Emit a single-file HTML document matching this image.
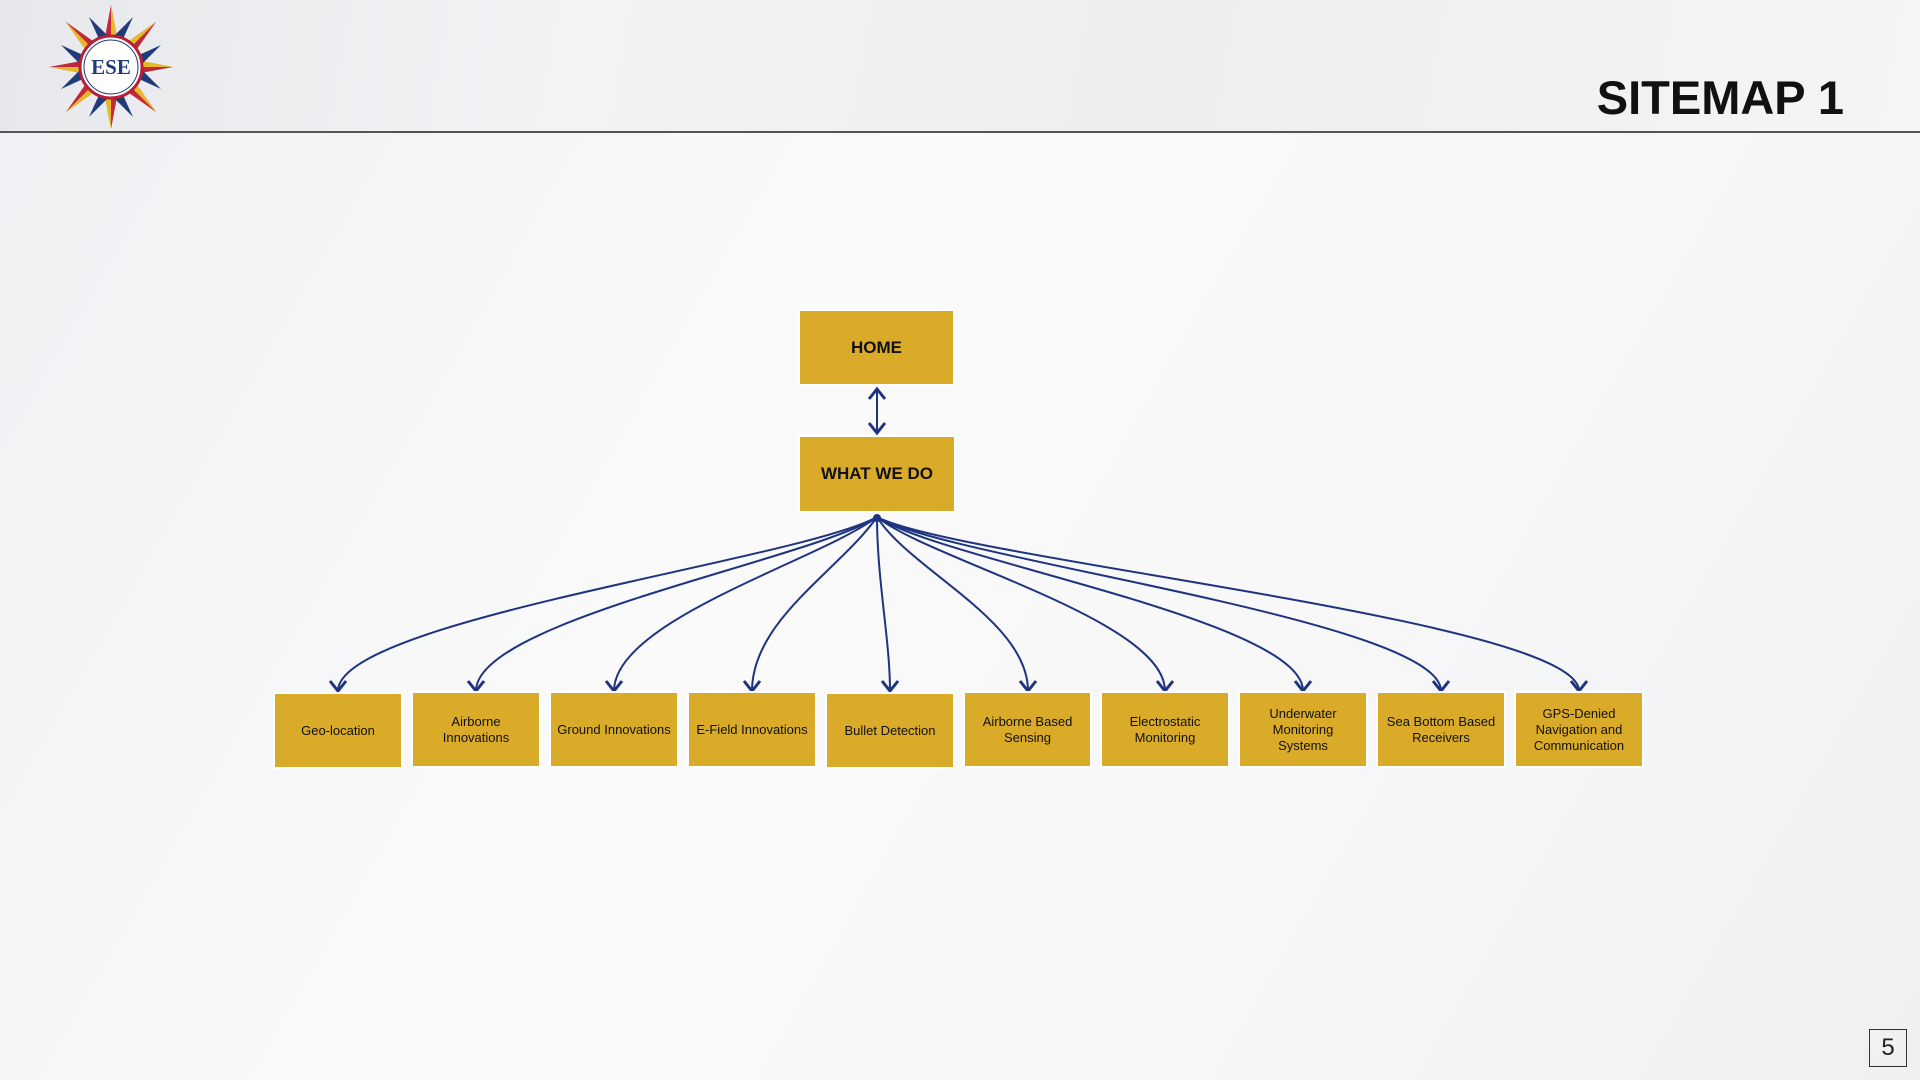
<!DOCTYPE html>
<html><head><meta charset="utf-8"><style>
body{margin:0;width:1920px;height:1080px;overflow:hidden;font-family:"Liberation Sans",sans-serif;background:linear-gradient(120deg,#eef0f3 0%,#fafafa 40%,#f7f7f8 70%,#eef0f2 100%);position:relative}
.hdr{position:absolute;left:0;top:0;width:1920px;height:131px;background:linear-gradient(100deg,#e6e8eb 0%,#f2f3f5 30%,#eceef0 60%,#f4f5f6 100%);border-bottom:2px solid #555}
.title{position:absolute;right:76px;top:70px;font-size:47px;font-weight:bold;color:#111;font-family:"Liberation Sans",sans-serif}
.b{position:absolute;background:#d9ab28;border:2px solid #fff;box-sizing:border-box;display:flex;align-items:center;justify-content:center;text-align:center;font-size:13px;color:#111;line-height:16px}
.big{font-weight:bold;font-size:17px}
.pn{position:absolute;left:1869px;top:1029px;width:38px;height:38px;border:1.5px solid #333;box-sizing:border-box;font-size:24px;display:flex;align-items:center;justify-content:center;color:#222}
</style></head><body>
<div class="hdr"></div>
<svg style="position:absolute;left:0;top:0" width="240" height="132">
<g transform="translate(111,67)">
<g fill="#c0283b"><polygon points="0,-62 -6,-30 6,-30"/><polygon points="0,62 -6,30 6,30"/><polygon points="-62,0 -30,-6 -30,6"/><polygon points="62,0 30,-6 30,6"/>
<polygon points="-45,-45 -26,-18 -18,-26"/><polygon points="45,45 26,18 18,26"/><polygon points="45,-45 18,-26 26,-18"/><polygon points="-45,45 -18,26 -26,18"/></g>
<g fill="#e8b927"><polygon points="0,-62 0,-30 6,-30"/><polygon points="0,62 0,30 -6,30"/><polygon points="-62,0 -30,0 -30,6"/><polygon points="62,0 30,0 30,-6"/>
<polygon points="-45,-45 -26,-18 -22,-22"/><polygon points="45,45 26,18 22,22"/><polygon points="45,-45 22,-22 18,-26"/><polygon points="-45,45 -22,22 -18,26"/></g>
<g fill="#1f3b7a"><polygon points="-22,-50 -12,-28 -4,-32"/><polygon points="22,-50 12,-28 4,-32"/><polygon points="-22,50 -12,28 -4,32"/><polygon points="22,50 12,28 4,32"/>
<polygon points="-50,-22 -28,-12 -32,-4"/><polygon points="50,-22 28,-12 32,-4"/><polygon points="-50,22 -28,12 -32,4"/><polygon points="50,22 28,12 32,4"/></g>
<circle r="31" fill="#fff" stroke="#b52034" stroke-width="3"/><circle r="27" fill="none" stroke="#1f3b7a" stroke-width="1"/>
<text y="7" text-anchor="middle" font-family="Liberation Serif,serif" font-weight="bold" font-size="21" fill="#1f3b7a">ESE</text></g></svg>
<div class="title">SITEMAP 1</div>
<svg style="position:absolute;left:0;top:0" width="1920" height="1080" fill="none" stroke="#1f3480" stroke-width="2">
<defs><marker id="a" markerWidth="10" markerHeight="10" refX="6" refY="5" orient="auto-start-reverse"><path d="M1,1 L6,5 L1,9" stroke="#1f3480" stroke-width="1.5" fill="none"/></marker></defs>
<line x1="877" y1="389" x2="877" y2="433" marker-start="url(#a)" marker-end="url(#a)"/>
<path d="M877,517 C800,560 338,620 338,691" marker-end="url(#a)"/>
<path d="M877,517 C810,560 476,620 476,691" marker-end="url(#a)"/>
<path d="M877,517 C820,560 614,620 614,691" marker-end="url(#a)"/>
<path d="M877,517 C840,570 752,620 752,691" marker-end="url(#a)"/>
<path d="M877,517 C877,580 890,640 890,691" marker-end="url(#a)"/>
<path d="M877,517 C910,570 1028,620 1028,691" marker-end="url(#a)"/>
<path d="M877,517 C930,560 1165,620 1165,691" marker-end="url(#a)"/>
<path d="M877,517 C940,560 1303,620 1303,691" marker-end="url(#a)"/>
<path d="M877,517 C950,560 1441,620 1441,691" marker-end="url(#a)"/>
<path d="M877,517 C960,560 1579,620 1579,691" marker-end="url(#a)"/>
<circle cx="877" cy="518" r="3" fill="#1f3480"/>
</svg>
<div class="b big" style="left:798px;top:309px;width:157px;height:77px">HOME</div>
<div class="b big" style="left:798px;top:435px;width:158px;height:78px">WHAT WE DO</div>
<div class="b" style="left:273px;top:692px;width:130px;height:77px">Geo-location</div>
<div class="b" style="left:411px;top:691px;width:130px;height:77px">Airborne<br>Innovations</div>
<div class="b" style="left:549px;top:691px;width:130px;height:77px">Ground Innovations</div>
<div class="b" style="left:687px;top:691px;width:130px;height:77px">E-Field Innovations</div>
<div class="b" style="left:825px;top:692px;width:130px;height:77px">Bullet Detection</div>
<div class="b" style="left:963px;top:691px;width:129px;height:77px">Airborne Based<br>Sensing</div>
<div class="b" style="left:1100px;top:691px;width:130px;height:77px">Electrostatic<br>Monitoring</div>
<div class="b" style="left:1238px;top:691px;width:130px;height:77px">Underwater<br>Monitoring<br>Systems</div>
<div class="b" style="left:1376px;top:691px;width:130px;height:77px">Sea Bottom Based<br>Receivers</div>
<div class="b" style="left:1514px;top:691px;width:130px;height:77px">GPS-Denied<br>Navigation and<br>Communication</div>
<div class="pn">5</div>
</body></html>
